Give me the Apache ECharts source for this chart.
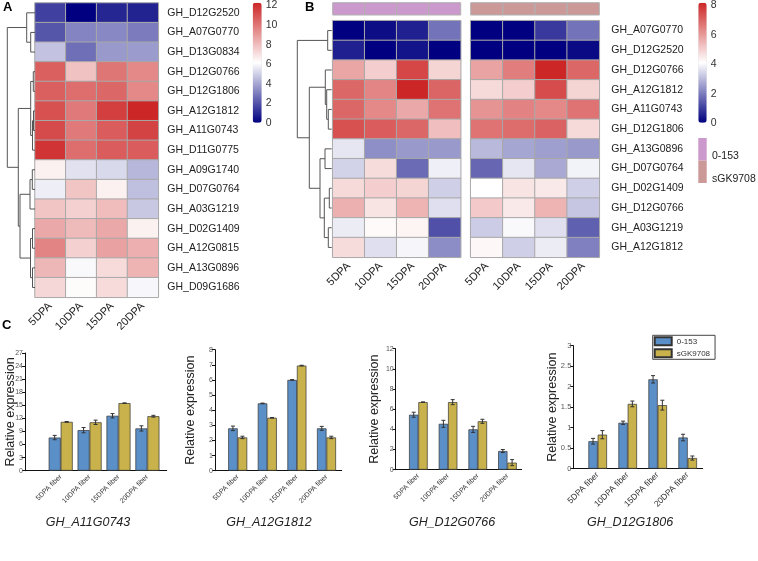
<!DOCTYPE html>
<html><head><meta charset="utf-8">
<script src="https://cdn.jsdelivr.net/npm/echarts@6/dist/echarts.min.js"></script>
<style>html,body{margin:0;padding:0;background:#fff}#c{width:758px;height:561px}</style>
</head><body><div id="c"></div>
<script>
// ---------- DATA ----------
const stages = ['5DPA','10DPA','15DPA','20DPA'];
const genesA = ['GH_D12G2520','GH_A07G0770','GH_D13G0834','GH_D12G0766','GH_D12G1806','GH_A12G1812','GH_A11G0743','GH_D11G0775','GH_A09G1740','GH_D07G0764','GH_A03G1219','GH_D02G1409','GH_A12G0815','GH_A13G0896','GH_D09G1686'];
const valuesA = [
  [1.5,0.0,0.9,0.8],
  [2.0,3.1,3.2,2.9],
  [4.6,2.6,3.6,3.65],
  [10.4,7.7,9.8,9.3],
  [10.4,10.0,10.2,9.3],
  [10.8,9.7,11.3,12.0],
  [11.0,9.7,10.5,11.2],
  [11.6,10.0,10.5,10.5],
  [6.4,5.3,5.1,4.3],
  [5.6,7.6,6.4,4.5],
  [7.6,7.3,7.85,4.7],
  [8.4,7.9,8.4,6.4],
  [9.4,7.3,8.6,8.2],
  [8.0,5.85,7.0,8.1],
  [7.1,6.1,7.0,5.8]
];
// dendrogram: [height, left, right], leaves = row index
const dendroA = [27.7, [8.3, 0, [4.3, 1, 2]], [16.7, [4.3, [1.7, 3, 4], [2.5, [1.5, 5, 6], 7]], [15, [5, [2.7, 8, 9], 10], [4.5, [2.5, 11, 12], [2.5, 13, 14]]]]];
const ticksA = [0, 12, 2];

const genesB = ['GH_A07G0770','GH_D12G2520','GH_D12G0766','GH_A12G1812','GH_A11G0743','GH_D12G1806','GH_A13G0896','GH_D07G0764','GH_D02G1409','GH_D12G0766','GH_A03G1219','GH_A12G1812'];
const valuesB0153 = [
  [0.0,0.2,0.5,1.8],
  [0.5,0.0,0.3,0.0],
  [5.66,4.9,7.4,4.8],
  [6.8,6.25,8.0,6.85],
  [6.8,6.2,5.6,6.6],
  [7.2,7.0,6.8,5.2],
  [3.6,2.25,2.4,2.4],
  [3.3,4.65,1.66,3.75],
  [4.7,4.9,4.8,3.25],
  [5.45,4.5,5.4,3.5],
  [3.7,4.1,4.2,1.25],
  [4.65,3.5,3.85,2.2]
];
const valuesBsGK = [
  [0.0,0.0,0.9,1.8],
  [0.0,0.0,0.0,0.15],
  [5.7,6.4,8.0,6.8],
  [4.7,4.9,7.3,4.8],
  [6.0,6.3,6.2,6.6],
  [6.6,6.7,6.9,4.7],
  [2.9,2.6,2.5,2.4],
  [1.6,3.6,2.65,3.8],
  [4.0,4.5,4.4,3.25],
  [5.0,4.4,5.4,3.1],
  [3.2,3.9,3.5,1.5],
  [4.15,3.25,3.7,2.0]
];
const dendroB = [34.4, [4, 0, 1], [22.4, [6.4, 2, [5, 3, [3.4, 4, 5]]], [11.7, [6.7, 6, 7], [7.4, [2.4, 8, 9], [3.4, 10, 11]]]]];
const ticksB = [0, 8, 2];
const groupsB = ['0-153','sGK9708'];

const barCats = ['5DPA fiber','10DPA fiber','15DPA fiber','20DPA fiber'];
const qGenes = ['GH_A11G0743','GH_A12G1812','GH_D12G0766','GH_D12G1806'];
const q0153 = [[7.6,9.3,12.6,9.7],[2.8,4.45,6.0,2.8],[5.45,4.55,4.0,1.85],[0.67,1.12,2.18,0.76]];
const q0153Err = [[0.5,0.6,0.5,0.6],[0.15,0.02,0.02,0.13],[0.25,0.35,0.3,0.15],[0.07,0.04,0.09,0.08]];
const qSGK = [[11.2,11.1,15.5,12.5],[2.2,3.5,6.95,2.2],[6.7,6.7,4.8,0.7],[0.83,1.58,1.55,0.26]];
const qSGKErr = [[0.08,0.5,0.05,0.2],[0.08,0.02,0.02,0.08],[0.02,0.25,0.2,0.3],[0.1,0.07,0.12,0.05]];
const qMax = [27,8,12,3];
const qStep = [3,1,2,0.5];

// ---------- STYLE / LAYOUT ----------
const FONT = '"Liberation Sans", Arial, sans-serif';
const NAVY = '#000080', WHITE = '#ffffff', RED = '#CD2626';
const C0153 = '#5b8fc7', CSGK = '#c9b24b';
const ANNOT = ['#cc99cc', '#cc9999'];
const DY = -32; // vertical shift of panel C

const grids = [], xAxes = [], yAxes = [], series = [], titles = [];
function addGrid(g){ grids.push(Object.assign({containLabel:false}, g)); return grids.length - 1; }
function addX(a){ xAxes.push(a); return xAxes.length - 1; }
function addY(a){ yAxes.push(a); return yAxes.length - 1; }
const hiddenVal = (gi, min, max, extra) => Object.assign({type:'value', gridIndex:gi, min, max, show:false}, extra || {});

function dendroSegs(node, segs){
  if (typeof node === 'number') return {y: node, h: 0};
  const [h, a, b] = node;
  const A = dendroSegs(a, segs), B = dendroSegs(b, segs);
  segs.push([A.h, A.y, h, A.y]);
  segs.push([B.h, B.y, h, B.y]);
  segs.push([h, A.y, h, B.y]);
  return {y: (A.y + B.y) / 2, h};
}
function lineRender(color){
  return function(params, api){
    const p1 = api.coord([api.value(0), api.value(1)]);
    const p2 = api.coord([api.value(2), api.value(3)]);
    return {type:'line', shape:{x1:p1[0], y1:p1[1], x2:p2[0], y2:p2[1]}, style:{stroke:color, lineWidth:1}};
  };
}
function addDendro(tree, n, left, top, width, height){
  const gi = addGrid({left, top, width, height});
  const xi = addX(hiddenVal(gi, 0, width, {inverse:true}));
  const yi = addY(hiddenVal(gi, -0.5, n - 0.5, {inverse:true}));
  const segs = [];
  dendroSegs(tree, segs);
  series.push({type:'custom', xAxisIndex:xi, yAxisIndex:yi, data:segs, encode:{x:[0,2], y:[1,3]},
    renderItem: lineRender('#555'), silent:true, clip:false});
}
function heatData(vals){
  const out = [];
  vals.forEach((row, r) => row.forEach((v, c) => out.push([c, r, v])));
  return out;
}
const xLabelHeat = {type:'category', data:stages, axisLine:{show:false}, axisTick:{show:false},
  axisLabel:{rotate:45, fontSize:11, color:'#222', fontFamily:FONT, margin:7, interval:0}};

// ---------- PANEL A ----------
const gA = addGrid({left:35, top:3, width:123.3, height:294.3});
const xA = addX(Object.assign({gridIndex:gA}, xLabelHeat));
const yA = addY({type:'category', gridIndex:gA, data:genesA, inverse:true, position:'right',
  axisLine:{show:false}, axisTick:{show:false},
  axisLabel:{fontSize:10.5, color:'#222', fontFamily:FONT, margin:9, interval:0}});
const sA = series.length;
series.push({type:'heatmap', xAxisIndex:xA, yAxisIndex:yA, data:heatData(valuesA),
  itemStyle:{borderColor:'#a8a8a8', borderWidth:1}, emphasis:{disabled:true}});
addDendro(dendroA, genesA.length, 0, 3, 35, 294.3);
// colorbar axis A
const gCA = addGrid({left:252.7, top:5, width:9, height:118});
addX(hiddenVal(gCA, 0, 1));
addY({type:'value', gridIndex:gCA, min:ticksA[0], max:ticksA[1], interval:ticksA[2], position:'right',
  axisLine:{show:false}, axisTick:{show:false}, splitLine:{show:false},
  axisLabel:{fontSize:10.5, color:'#333', fontFamily:FONT, margin:4}});

// ---------- PANEL B ----------
const bLefts = [332.7, 470.7], bWidths = [128, 128.6];
const bVals = [valuesB0153, valuesBsGK];
const sB = [];
bVals.forEach((vals, k) => {
  const g = addGrid({left:bLefts[k], top:20.7, width:bWidths[k], height:236.6});
  const xi = addX(Object.assign({gridIndex:g}, xLabelHeat));
  const yi = addY({type:'category', gridIndex:g, data:genesB.map((_, i) => String(i)), inverse:true, position:'right',
    axisLine:{show:false}, axisTick:{show:false},
    axisLabel:{show:k === 1, fontSize:10.5, color:'#222', fontFamily:FONT, margin:12, interval:0,
      formatter:(v) => genesB[+v]}});
  sB.push(series.length);
  series.push({type:'heatmap', xAxisIndex:xi, yAxisIndex:yi, data:heatData(vals),
    itemStyle:{borderColor:'#a8a8a8', borderWidth:1}, emphasis:{disabled:true}});
  // annotation bar
  const ga = addGrid({left:bLefts[k], top:2.7, width:bWidths[k], height:12.3});
  const xa = addX({type:'category', gridIndex:ga, data:stages, show:false});
  const ya = addY({type:'category', gridIndex:ga, data:[groupsB[k]], show:false});
  const col = ANNOT[k];
  series.push({type:'custom', xAxisIndex:xa, yAxisIndex:ya, data:stages.map((s, i) => [i, 0]),
    encode:{x:0, y:1}, silent:true,
    renderItem:(params, api) => {
      const p = api.coord([api.value(0), api.value(1)]);
      const sz = api.size([1, 1]);
      return {type:'rect', shape:{x:p[0]-sz[0]/2, y:p[1]-sz[1]/2, width:sz[0], height:sz[1]},
        style:{fill:col, stroke:'#b0b0b0', lineWidth:1}};
    }});
});
addDendro(dendroB, genesB.length, 290, 20.7, 41.7, 236.6);
const gCB = addGrid({left:698.3, top:4, width:8.4, height:119});
addX(hiddenVal(gCB, 0, 1));
addY({type:'value', gridIndex:gCB, min:ticksB[0], max:ticksB[1], interval:ticksB[2], position:'right',
  axisLine:{show:false}, axisTick:{show:false}, splitLine:{show:false},
  axisLabel:{fontSize:10.5, color:'#333', fontFamily:FONT, margin:4}});
// annotation legend labels (offset below swatch centres, as in the reference)
groupsB.forEach((g, k) => titles.push({text:g, left:712, top:151 + 22.5 * k, padding:0,
  textStyle:{fontSize:10.5, fontWeight:'normal', color:'#222', fontFamily:FONT}}));

// ---------- PANEL C ----------
const axL = [25, 215, 395.7, 573.3], axW = [141.7, 126.7, 126, 129.4];
const axT = [385, 381.7, 380.7, 377.7].map(v => v + DY), axB = [502.7, 502.7, 501.7, 500.7].map(v => v + DY);
const barL = [46.25, 222.9, 403.5, 582.7], barW = [115.6, 118.4, 118.8, 120];
const bw = [12, 9.5, 9.3, 9.3];
const nameGap = [8, 17.5, 15, 14];
const titleX = [88, 269, 452, 630];
const xFont = [7, 7, 7, 8.5];
const yFont = [7, 7, 7, 7.5];
function errRender(sign, w){
  return function(params, api){
    const x = api.value(0), v = api.value(1), e = api.value(2);
    const t = api.coord([x, v + e]), b = api.coord([x, v - e]);
    const cx = t[0] + sign * w / 2;
    const st = {stroke:'#333', lineWidth:1};
    return {type:'group', children:[
      {type:'line', shape:{x1:cx, y1:t[1], x2:cx, y2:b[1]}, style:st},
      {type:'line', shape:{x1:cx-2, y1:t[1], x2:cx+2, y2:t[1]}, style:st},
      {type:'line', shape:{x1:cx-2, y1:b[1], x2:cx+2, y2:b[1]}, style:st}
    ]};
  };
}
qGenes.forEach((gene, i) => {
  const top = axT[i], height = axB[i] - axT[i];
  const ga = addGrid({left:axL[i], top, width:axW[i], height});
  addX({type:'value', gridIndex:ga, min:0, max:1, axisLine:{show:true, lineStyle:{color:'#111', width:1}},
    axisTick:{show:false}, axisLabel:{show:false}, splitLine:{show:false}});
  addY({type:'value', gridIndex:ga, min:0, max:qMax[i], interval:qStep[i],
    axisLine:{show:true, lineStyle:{color:'#111', width:1}},
    axisTick:{show:true, length:3, lineStyle:{color:'#111'}}, splitLine:{show:false},
    axisLabel:{fontSize:yFont[i], color:'#555', fontFamily:FONT, margin:2},
    name:'Relative expression', nameLocation:'middle', nameGap:nameGap[i], nameMoveOverlap:false,
    nameTextStyle:{fontSize:12.5, color:'#222', fontFamily:FONT}});
  const gb = addGrid({left:barL[i], top, width:barW[i], height});
  const xb = addX({type:'category', gridIndex:gb, data:barCats, axisLine:{show:false}, axisTick:{show:false},
    axisLabel:{rotate:45, fontSize:xFont[i], color:'#333', fontFamily:FONT, margin:5, interval:0}});
  const yb = addY(hiddenVal(gb, 0, qMax[i]));
  series.push({type:'bar', name:'0-153', xAxisIndex:xb, yAxisIndex:yb, data:q0153[i], barWidth:bw[i], barGap:'0%',
    itemStyle:{color:C0153, borderColor:'#333', borderWidth:0.7}, emphasis:{disabled:true}});
  series.push({type:'bar', name:'sGK9708', xAxisIndex:xb, yAxisIndex:yb, data:qSGK[i], barWidth:bw[i], barGap:'0%',
    itemStyle:{color:CSGK, borderColor:'#333', borderWidth:0.7}, emphasis:{disabled:true}});
  series.push({type:'custom', xAxisIndex:xb, yAxisIndex:yb, data:q0153[i].map((v, k) => [k, v, q0153Err[i][k]]),
    encode:{x:0, y:1}, renderItem:errRender(-1, bw[i]), silent:true, z:5});
  series.push({type:'custom', xAxisIndex:xb, yAxisIndex:yb, data:qSGK[i].map((v, k) => [k, v, qSGKErr[i][k]]),
    encode:{x:0, y:1}, renderItem:errRender(1, bw[i]), silent:true, z:5});
  titles.push({text:gene, left:titleX[i], top:516, textAlign:'center', padding:0,
    textStyle:{fontSize:12.5, fontStyle:'italic', fontWeight:'normal', color:'#222', fontFamily:FONT}});
});

// panel letters
[['A', 3, 1], ['B', 305, 1], ['C', 2, 319]].forEach(([t, l, tp]) => titles.push({text:t, left:l, top:tp, padding:0,
  textStyle:{fontSize:13, fontWeight:'bold', color:'#000', fontFamily:FONT}}));

const option = {
  animation:false,
  backgroundColor:'#fff',
  title:titles,
  grid:grids,
  xAxis:xAxes,
  yAxis:yAxes,
  visualMap:[
    {type:'continuous', min:ticksA[0], max:ticksA[1], seriesIndex:[sA], calculable:false, orient:'vertical',
      left:252.7, top:2.7, itemWidth:9, itemHeight:120, padding:0, text:null, hoverLink:false,
      inRange:{color:[NAVY, WHITE, RED]}},
    {type:'continuous', min:ticksB[0], max:ticksB[1], seriesIndex:sB, calculable:false, orient:'vertical',
      left:698.3, top:2.7, itemWidth:8.4, itemHeight:120, padding:0, text:null, hoverLink:false,
      inRange:{color:[NAVY, WHITE, RED]}}
  ],
  legend:[
    {orient:'vertical', left:652.7, top:367.3 + DY, itemWidth:17, itemHeight:8, itemGap:2, padding:[1,5,1,1],
      borderColor:'#444', borderWidth:1, icon:'rect', selectedMode:false,
      textStyle:{fontSize:8, color:'#333', fontFamily:FONT}, data:['0-153','sGK9708']},
    {orient:'vertical', left:698.3, top:138, itemWidth:8.4, itemHeight:22.5, itemGap:0, padding:0,
      icon:'rect', selectedMode:false, formatter:() => '',
      textStyle:{fontSize:10.5, color:'#222', fontFamily:FONT},
      data:groupsB.map((g, k) => ({name:g, itemStyle:{color:ANNOT[k], borderWidth:0}}))}
  ],
  series
};
const chart = echarts.init(document.getElementById('c'), null, {renderer:'canvas'});
chart.setOption(option);
</script></body></html>
